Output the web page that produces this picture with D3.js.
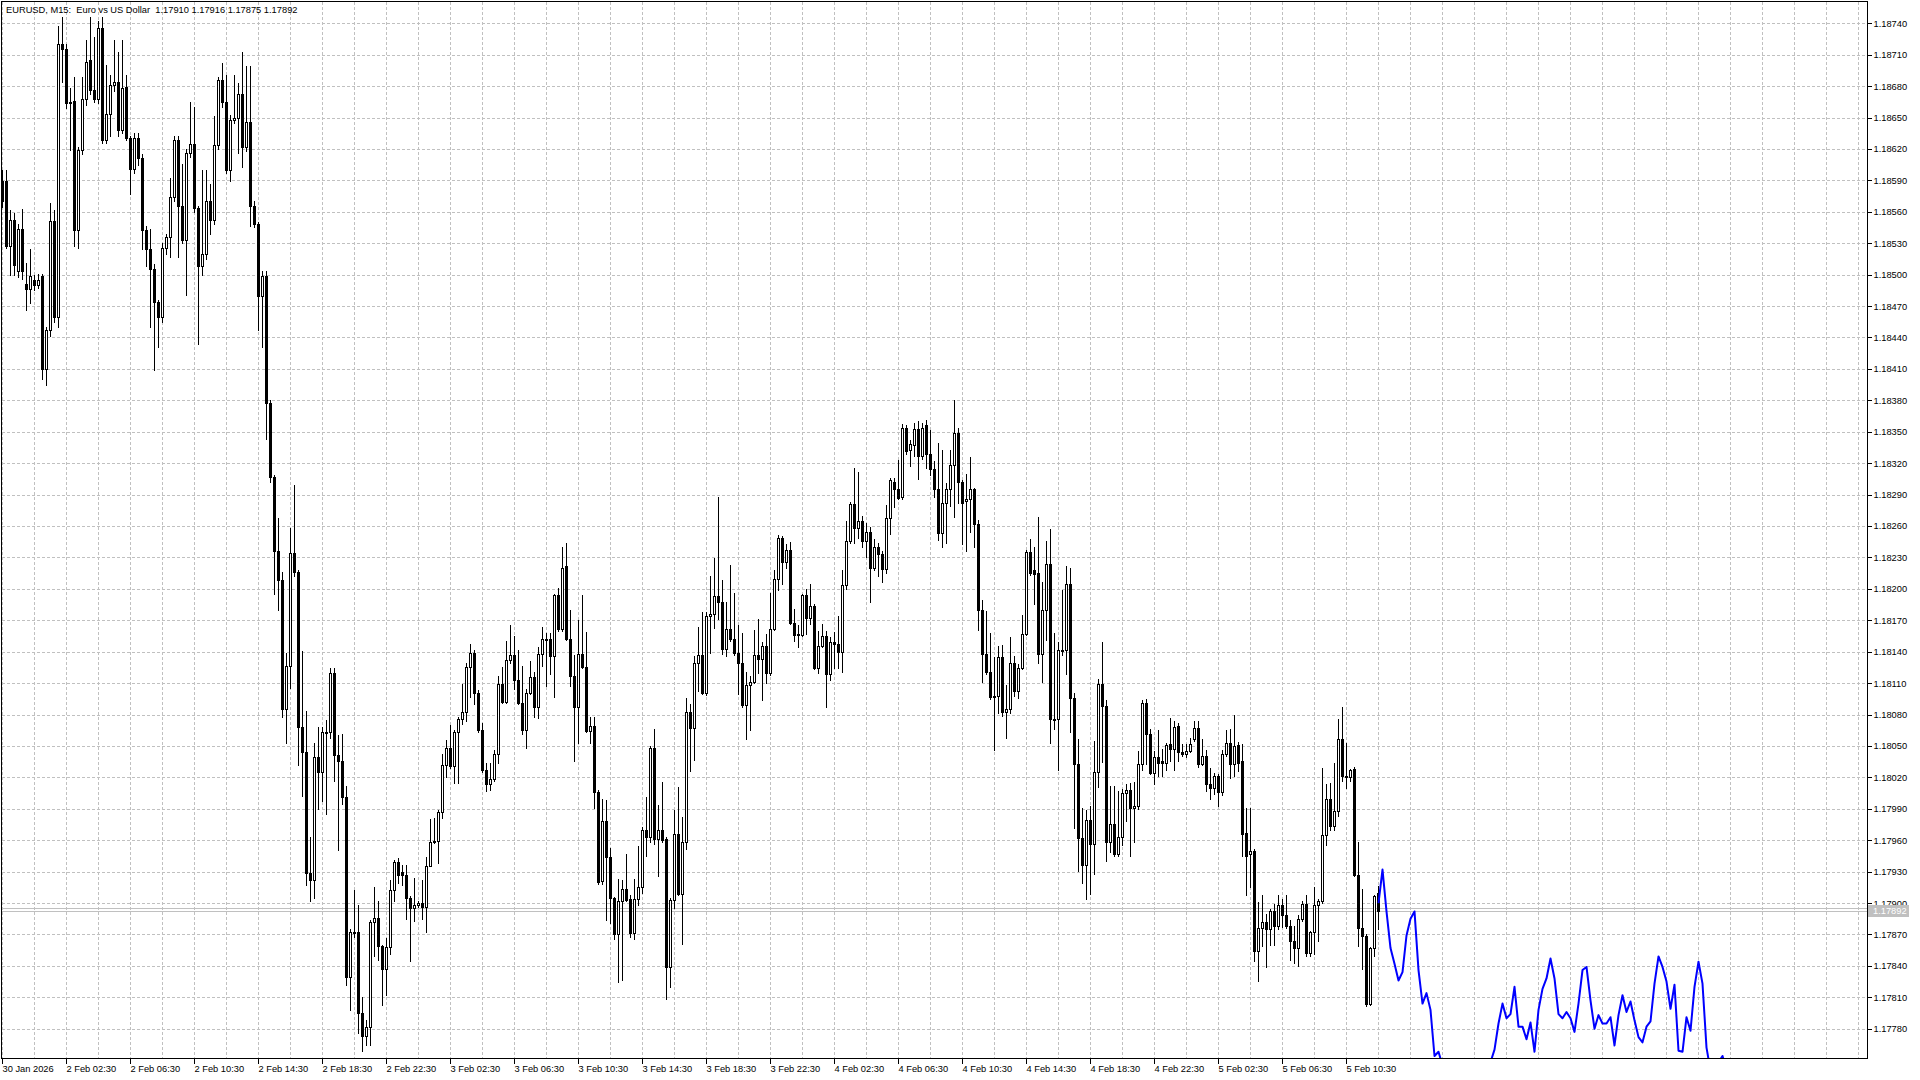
<!DOCTYPE html>
<html><head><meta charset="utf-8">
<script src="https://cdn.jsdelivr.net/npm/d3@7"></script>
<style>html,body{margin:0;padding:0;background:#fff;overflow:hidden}</style>
</head><body><svg id="chart" width="1920" height="1080"></svg>
<script>
// ---- data (EURUSD M15, first bar 30 Jan 2026 22:30) ----
const opens=[1.18589,1.18589,1.18527,1.18552,1.18503,1.18544,1.18491,1.18486,1.18495,1.18490,
1.18499,1.18410,1.18447,1.18551,1.18460,1.18720,1.18715,1.18665,1.18666,1.18543,
1.18619,1.18668,1.18705,1.18676,1.18668,1.18735,1.18629,1.18653,1.18681,1.18684,
1.18638,1.18679,1.18630,1.18601,1.18630,1.18611,1.18543,1.18524,1.18505,1.18474,
1.18460,1.18525,1.18536,1.18574,1.18629,1.18566,1.18533,1.18616,1.18625,1.18564,
1.18508,1.18520,1.18570,1.18552,1.18624,1.18686,1.18665,1.18600,1.18648,1.18650,
1.18672,1.18622,1.18646,1.18566,1.18548,1.18480,1.18499,1.18377,1.18307,1.18236,
1.18208,1.18085,1.18126,1.18234,1.18216,1.18068,1.18044,1.17929,1.17922,1.18039,
1.18025,1.18063,1.18063,1.18120,1.18041,1.18036,1.18001,1.17829,1.17872,1.17872,
1.17795,1.17773,1.17782,1.17882,1.17886,1.17859,1.17837,1.17858,1.17912,1.17939,
1.17930,1.17927,1.17905,1.17895,1.17898,1.17900,1.17896,1.17935,1.17958,1.17959,
1.17987,1.18032,1.18048,1.18031,1.18063,1.18076,1.18082,1.18125,1.18139,1.18101,
1.18065,1.18027,1.18014,1.18018,1.18042,1.18109,1.18092,1.18132,1.18137,1.18113,
1.18091,1.18065,1.18101,1.18116,1.18087,1.18138,1.18152,1.18152,1.18136,1.18194,
1.18162,1.18222,1.18152,1.18117,1.18087,1.18138,1.18125,1.18064,1.18069,1.18006,
1.17921,1.17978,1.17944,1.17905,1.17870,1.17902,1.17913,1.17904,1.17871,1.17904,
1.17915,1.17970,1.17963,1.18048,1.17961,1.17970,1.17961,1.17839,1.17903,1.17966,
1.17909,1.17958,1.18082,1.18067,1.18129,1.18137,1.18101,1.18174,1.18176,1.18193,
1.18187,1.18143,1.18162,1.18152,1.18139,1.18129,1.18089,1.18108,1.18111,1.18137,
1.18133,1.18145,1.18120,1.18162,1.18209,1.18249,1.18226,1.18237,1.18167,1.18156,
1.18156,1.18194,1.18172,1.18184,1.18124,1.18145,1.18155,1.18119,1.18149,1.18147,
1.18140,1.18204,1.18246,1.18281,1.18258,1.18265,1.18246,1.18254,1.18220,1.18240,
1.18233,1.18219,1.18268,1.18302,1.18295,1.18288,1.18354,1.18333,1.18337,1.18353,
1.18327,1.18356,1.18329,1.18314,1.18295,1.18253,1.18282,1.18295,1.18318,1.18349,
1.18302,1.18284,1.18286,1.18295,1.18262,1.18180,1.18138,1.18121,1.18098,1.18098,
1.18135,1.18082,1.18085,1.18129,1.18102,1.18124,1.18157,1.18235,1.18218,1.18215,
1.18138,1.18180,1.18224,1.18076,1.18076,1.18142,1.18142,1.18205,1.18096,1.18033,
1.17962,1.17936,1.17979,1.17956,1.18025,1.18109,1.18088,1.17958,1.17975,1.17947,
1.17963,1.18005,1.18008,1.17991,1.17993,1.18033,1.18091,1.18061,1.18024,1.18039,
1.18036,1.18034,1.18052,1.18047,1.18069,1.18044,1.18042,1.18045,1.18057,1.18067,
1.18033,1.18040,1.18014,1.18010,1.18021,1.18006,1.18042,1.18053,1.18033,1.18051,
1.18036,1.17967,1.17947,1.17950,1.17854,1.17876,1.17882,1.17875,1.17892,1.17878,
1.17898,1.17889,1.17878,1.17864,1.17857,1.17885,1.17899,1.17852,1.17872,1.17898,
1.17902,1.17965,1.17999,1.17974,1.17988,1.18057,1.18021,1.18020,1.18028,1.17927,
1.17876,1.17869,1.17804,1.17857,1.17910];
const highs=[1.18600,1.18600,1.18562,1.18559,1.18548,1.18563,1.18511,1.18524,1.18500,1.18501,
1.18501,1.18450,1.18568,1.18562,1.18737,1.18746,1.18720,1.18678,1.18689,1.18622,
1.18689,1.18724,1.18746,1.18727,1.18742,1.18746,1.18700,1.18691,1.18724,1.18713,
1.18724,1.18691,1.18632,1.18635,1.18635,1.18615,1.18546,1.18544,1.18510,1.18476,
1.18530,1.18539,1.18592,1.18632,1.18632,1.18606,1.18620,1.18665,1.18660,1.18566,
1.18600,1.18600,1.18587,1.18651,1.18689,1.18702,1.18691,1.18652,1.18691,1.18683,
1.18713,1.18699,1.18699,1.18570,1.18550,1.18503,1.18503,1.18380,1.18309,1.18268,
1.18216,1.18139,1.18258,1.18299,1.18218,1.18141,1.18083,1.17963,1.18053,1.18068,
1.18068,1.18075,1.18124,1.18124,1.18060,1.18061,1.18012,1.17875,1.17912,1.17898,
1.17810,1.17788,1.17884,1.17915,1.17902,1.17860,1.17867,1.17922,1.17941,1.17943,
1.17936,1.17936,1.17907,1.17924,1.17902,1.17922,1.17944,1.17980,1.17981,1.17989,
1.18042,1.18056,1.18070,1.18065,1.18078,1.18109,1.18129,1.18147,1.18142,1.18103,
1.18072,1.18034,1.18034,1.18046,1.18117,1.18125,1.18150,1.18165,1.18155,1.18142,
1.18126,1.18104,1.18131,1.18121,1.18144,1.18164,1.18158,1.18158,1.18195,1.18201,
1.18240,1.18244,1.18180,1.18137,1.18170,1.18194,1.18159,1.18078,1.18078,1.18008,
1.17999,1.17998,1.17953,1.17906,1.17923,1.17922,1.17947,1.17908,1.17923,1.17954,
1.17973,1.18001,1.18050,1.18066,1.17994,1.18016,1.17963,1.17905,1.17989,1.18011,
1.17982,1.18096,1.18090,1.18136,1.18164,1.18178,1.18178,1.18212,1.18229,1.18288,
1.18208,1.18187,1.18223,1.18196,1.18165,1.18158,1.18121,1.18117,1.18161,1.18171,
1.18149,1.18157,1.18196,1.18218,1.18251,1.18250,1.18243,1.18245,1.18181,1.18165,
1.18195,1.18200,1.18205,1.18186,1.18160,1.18166,1.18160,1.18154,1.18159,1.18174,
1.18218,1.18265,1.18283,1.18315,1.18312,1.18270,1.18263,1.18259,1.18248,1.18244,
1.18236,1.18280,1.18306,1.18306,1.18323,1.18357,1.18356,1.18342,1.18358,1.18360,
1.18358,1.18361,1.18352,1.18322,1.18339,1.18333,1.18301,1.18333,1.18380,1.18354,
1.18304,1.18310,1.18326,1.18296,1.18266,1.18189,1.18179,1.18158,1.18135,1.18145,
1.18146,1.18108,1.18154,1.18136,1.18128,1.18175,1.18237,1.18248,1.18240,1.18269,
1.18207,1.18246,1.18257,1.18158,1.18149,1.18199,1.18222,1.18220,1.18101,1.18057,
1.17991,1.17989,1.17993,1.18055,1.18114,1.18149,1.18094,1.18012,1.18012,1.18007,
1.18009,1.18014,1.18015,1.18016,1.18045,1.18094,1.18095,1.18066,1.18045,1.18065,
1.18047,1.18053,1.18077,1.18074,1.18072,1.18052,1.18052,1.18058,1.18074,1.18074,
1.18057,1.18046,1.18029,1.18024,1.18023,1.18046,1.18065,1.18066,1.18080,1.18054,
1.18052,1.17991,1.17991,1.17952,1.17901,1.17908,1.17890,1.17894,1.17899,1.17908,
1.17904,1.17908,1.17884,1.17878,1.17889,1.17902,1.17908,1.17873,1.17915,1.17904,
1.18029,1.18014,1.18015,1.18034,1.18076,1.18087,1.18053,1.18028,1.18030,1.17958,
1.17913,1.17870,1.17858,1.17908,1.17916];
const lows=[1.18565,1.18525,1.18500,1.18500,1.18498,1.18496,1.18466,1.18473,1.18485,1.18487,
1.18400,1.18395,1.18441,1.18455,1.18450,1.18684,1.18659,1.18619,1.18527,1.18525,
1.18615,1.18662,1.18672,1.18665,1.18664,1.18626,1.18626,1.18632,1.18675,1.18632,
1.18635,1.18629,1.18577,1.18597,1.18605,1.18524,1.18508,1.18450,1.18409,1.18431,
1.18455,1.18520,1.18517,1.18570,1.18517,1.18530,1.18481,1.18612,1.18560,1.18434,
1.18500,1.18515,1.18539,1.18548,1.18620,1.18660,1.18597,1.18589,1.18645,1.18616,
1.18603,1.18618,1.18546,1.18545,1.18447,1.18431,1.18343,1.18302,1.18195,1.18180,
1.18078,1.18053,1.18105,1.18212,1.18032,1.18002,1.17917,1.17902,1.17905,1.17990,
1.17997,1.17985,1.18058,1.18017,1.17951,1.17995,1.17822,1.17798,1.17868,1.17776,
1.17759,1.17764,1.17764,1.17849,1.17846,1.17803,1.17812,1.17851,1.17902,1.17919,
1.17917,1.17885,1.17845,1.17883,1.17896,1.17885,1.17872,1.17935,1.17957,1.17938,
1.17981,1.18020,1.18029,1.18015,1.18015,1.18071,1.18074,1.18097,1.18090,1.18063,
1.18025,1.18007,1.18008,1.18017,1.18034,1.18091,1.18091,1.18129,1.18104,1.18090,
1.18061,1.18048,1.18100,1.18078,1.18077,1.18126,1.18107,1.18119,1.18097,1.18160,
1.18160,1.18151,1.18107,1.18036,1.18053,1.18124,1.18063,1.18053,1.17991,1.17918,
1.17918,1.17884,1.17881,1.17866,1.17825,1.17827,1.17902,1.17868,1.17866,1.17898,
1.17910,1.17945,1.17958,1.17956,1.17926,1.17958,1.17808,1.17820,1.17895,1.17908,
1.17861,1.17952,1.18026,1.18037,1.18102,1.18100,1.18099,1.18139,1.18163,1.18171,
1.18138,1.18136,1.18150,1.18137,1.18100,1.18087,1.18057,1.18065,1.18110,1.18120,
1.18094,1.18110,1.18118,1.18161,1.18199,1.18205,1.18220,1.18166,1.18150,1.18144,
1.18155,1.18157,1.18166,1.18123,1.18120,1.18144,1.18087,1.18113,1.18124,1.18124,
1.18121,1.18200,1.18244,1.18244,1.18249,1.18240,1.18230,1.18187,1.18218,1.18212,
1.18207,1.18215,1.18252,1.18278,1.18286,1.18286,1.18329,1.18317,1.18327,1.18305,
1.18324,1.18315,1.18309,1.18288,1.18247,1.18240,1.18244,1.18279,1.18269,1.18282,
1.18243,1.18236,1.18254,1.18240,1.18161,1.18111,1.18119,1.18095,1.18046,1.18081,
1.18079,1.18058,1.18081,1.18098,1.18096,1.18123,1.18156,1.18213,1.18186,1.18129,
1.18111,1.18151,1.18053,1.18066,1.18027,1.18137,1.18119,1.18063,1.17972,1.17931,
1.17919,1.17904,1.17909,1.17928,1.18011,1.18035,1.17940,1.17949,1.17945,1.17945,
1.17955,1.17978,1.17945,1.17958,1.17990,1.18027,1.18033,1.18023,1.18014,1.18021,
1.18021,1.18027,1.18036,1.18027,1.18036,1.18040,1.18039,1.18044,1.18055,1.18030,
1.18032,1.18007,1.17999,1.18004,1.17993,1.18003,1.18040,1.18019,1.18021,1.18026,
1.17945,1.17908,1.17915,1.17845,1.17826,1.17859,1.17839,1.17860,1.17860,1.17875,
1.17877,1.17876,1.17846,1.17843,1.17840,1.17883,1.17849,1.17849,1.17851,1.17864,
1.17900,1.17955,1.17970,1.17970,1.17983,1.18017,1.18010,1.18017,1.17926,1.17859,
1.17837,1.17802,1.17803,1.17849,1.17875];
const closes=[1.18570,1.18527,1.18552,1.18509,1.18544,1.18503,1.18486,1.18499,1.18490,1.18495,
1.18410,1.18447,1.18551,1.18460,1.18720,1.18715,1.18664,1.18664,1.18543,1.18619,
1.18668,1.18703,1.18676,1.18668,1.18735,1.18629,1.18653,1.18681,1.18684,1.18638,
1.18678,1.18630,1.18601,1.18630,1.18611,1.18543,1.18524,1.18505,1.18474,1.18460,
1.18525,1.18536,1.18574,1.18629,1.18566,1.18533,1.18616,1.18625,1.18564,1.18508,
1.18520,1.18570,1.18552,1.18624,1.18686,1.18665,1.18600,1.18648,1.18650,1.18672,
1.18622,1.18646,1.18566,1.18548,1.18480,1.18499,1.18377,1.18307,1.18236,1.18208,
1.18085,1.18126,1.18234,1.18216,1.18068,1.18044,1.17929,1.17922,1.18039,1.18025,
1.18063,1.18062,1.18120,1.18041,1.18036,1.18001,1.17829,1.17872,1.17871,1.17795,
1.17773,1.17782,1.17882,1.17886,1.17859,1.17837,1.17858,1.17912,1.17939,1.17927,
1.17927,1.17905,1.17895,1.17898,1.17900,1.17896,1.17935,1.17958,1.17959,1.17987,
1.18032,1.18048,1.18031,1.18063,1.18076,1.18082,1.18125,1.18139,1.18101,1.18065,
1.18027,1.18014,1.18018,1.18042,1.18109,1.18092,1.18132,1.18137,1.18113,1.18091,
1.18065,1.18101,1.18116,1.18087,1.18138,1.18152,1.18151,1.18136,1.18194,1.18162,
1.18220,1.18152,1.18117,1.18087,1.18138,1.18125,1.18064,1.18069,1.18006,1.17920,
1.17978,1.17944,1.17905,1.17870,1.17902,1.17913,1.17903,1.17871,1.17904,1.17915,
1.17970,1.17963,1.18048,1.17961,1.17970,1.17960,1.17839,1.17903,1.17966,1.17909,
1.17958,1.18082,1.18067,1.18129,1.18137,1.18101,1.18174,1.18176,1.18193,1.18187,
1.18143,1.18162,1.18152,1.18139,1.18129,1.18089,1.18108,1.18111,1.18137,1.18133,
1.18145,1.18120,1.18162,1.18209,1.18249,1.18226,1.18237,1.18167,1.18156,1.18157,
1.18194,1.18172,1.18184,1.18124,1.18145,1.18155,1.18119,1.18149,1.18147,1.18140,
1.18204,1.18246,1.18281,1.18258,1.18265,1.18246,1.18254,1.18220,1.18240,1.18233,
1.18219,1.18268,1.18304,1.18295,1.18287,1.18354,1.18332,1.18338,1.18353,1.18327,
1.18354,1.18329,1.18314,1.18295,1.18253,1.18282,1.18295,1.18318,1.18349,1.18302,
1.18282,1.18286,1.18295,1.18262,1.18180,1.18138,1.18121,1.18097,1.18097,1.18135,
1.18082,1.18085,1.18129,1.18102,1.18124,1.18157,1.18235,1.18215,1.18214,1.18138,
1.18180,1.18224,1.18076,1.18075,1.18142,1.18141,1.18205,1.18096,1.18033,1.17962,
1.17936,1.17979,1.17956,1.18025,1.18109,1.18088,1.17958,1.17975,1.17947,1.17963,
1.18005,1.18008,1.17991,1.17993,1.18033,1.18091,1.18061,1.18024,1.18039,1.18034,
1.18034,1.18051,1.18047,1.18068,1.18044,1.18042,1.18045,1.18052,1.18067,1.18033,
1.18040,1.18014,1.18010,1.18021,1.18006,1.18042,1.18053,1.18033,1.18050,1.18034,
1.17966,1.17945,1.17950,1.17854,1.17876,1.17882,1.17875,1.17892,1.17878,1.17898,
1.17889,1.17878,1.17864,1.17857,1.17885,1.17899,1.17852,1.17872,1.17898,1.17902,
1.17965,1.17999,1.17974,1.17988,1.18057,1.18021,1.18020,1.18027,1.17927,1.17876,
1.17869,1.17804,1.17857,1.17907,1.17892];
// blue projection line, one value per bar starting at bar index forecastStart
const forecastStart=344;
const forecast=[1.17900,1.17932,1.17892,1.17857,1.17842,1.17826,1.17834,1.17869,1.17885,1.17892,
1.17836,1.17804,1.17814,1.17798,1.17754,1.17758,1.17745,1.17738,1.17732,1.17728,
1.17725,1.17723,1.17726,1.17730,1.17734,1.17738,1.17742,1.17745,1.17748,1.17760,
1.17785,1.17804,1.17790,1.17794,1.17820,1.17782,1.17782,1.17770,1.17786,1.17758,
1.17798,1.17818,1.17828,1.17847,1.17828,1.17794,1.17790,1.17796,1.17790,1.17777,
1.17804,1.17836,1.17839,1.17807,1.17780,1.17793,1.17785,1.17785,1.17791,1.17764,
1.17793,1.17812,1.17796,1.17806,1.17788,1.17772,1.17767,1.17782,1.17787,1.17823,
1.17849,1.17839,1.17825,1.17799,1.17822,1.17759,1.17758,1.17791,1.17778,1.17820,
1.17844,1.17823,1.17762,1.17740,1.17738,1.17748,1.17754,1.17742];
const priceTicks=[1.18740,1.18710,1.18680,1.18650,1.18620,1.18590,1.18560,1.18530,1.18500,1.18470,1.18440,
1.18410,1.18380,1.18350,1.18320,1.18290,1.18260,1.18230,1.18200,1.18170,1.18140,1.18110,
1.18080,1.18050,1.18020,1.17990,1.17960,1.17930,1.17900,1.17870,1.17840,1.17810,1.17780];
const labelBars=[0,16,32,48,64,80,96,112,128,144,160,176,192,208,224,240,256,272,288,304,320,336];
const timeLabels=["30 Jan 2026","2 Feb 02:30","2 Feb 06:30","2 Feb 10:30","2 Feb 14:30","2 Feb 18:30",
"2 Feb 22:30","3 Feb 02:30","3 Feb 06:30","3 Feb 10:30","3 Feb 14:30","3 Feb 18:30","3 Feb 22:30",
"4 Feb 02:30","4 Feb 06:30","4 Feb 10:30","4 Feb 14:30","4 Feb 18:30","4 Feb 22:30","5 Feb 02:30",
"5 Feb 06:30","5 Feb 10:30"];
const gridBars=d3.range(0,465,8);
const titleText="EURUSD, M15:  Euro vs US Dollar  1.17910 1.17916 1.17875 1.17892";
const bidPrice=1.17892, askPrice=1.17895;

// ---- layout ----
const L=2,R=1868,T=2,B=1059;
const FONT='"Liberation Sans", Arial, sans-serif';
const FS=9.3;
const svg=d3.select("#chart");
const x=d3.scaleLinear().domain([0,466]).range([2.5,2.5+4*466]);
const y=d3.scaleLinear().domain([1.177511,1.187603]).range([B,T]);
const px=i=>Math.floor(x(i));

svg.append("defs").append("clipPath").attr("id","clip")
  .append("rect").attr("x",L).attr("y",T).attr("width",R-L).attr("height",B-T);

// grid
const grid=svg.append("g").attr("stroke","#c0c0c0").attr("stroke-dasharray","3,2")
  .attr("shape-rendering","crispEdges");
grid.selectAll("line.h").data(priceTicks).join("line").attr("class","h")
  .attr("x1",L).attr("x2",R).attr("y1",d=>Math.round(y(d))+0.5).attr("y2",d=>Math.round(y(d))+0.5);
grid.selectAll("line.v").data(gridBars).join("line").attr("class","v")
  .attr("x1",d=>px(d)+0.5).attr("x2",d=>px(d)+0.5).attr("y1",T).attr("y2",B);

// bid / ask lines
svg.append("g").attr("stroke","#c0c0c0").attr("shape-rendering","crispEdges")
  .selectAll("line").data([bidPrice,askPrice]).join("line")
  .attr("x1",L).attr("x2",R).attr("y1",d=>Math.round(y(d))+0.5).attr("y2",d=>Math.round(y(d))+0.5);

// candles
const bars=opens.map((o,i)=>({i,o,h:highs[i],l:lows[i],c:closes[i]}));
const cg=svg.append("g").attr("clip-path","url(#clip)").attr("shape-rendering","crispEdges");
cg.selectAll("line.wick").data(bars).join("line").attr("class","wick")
  .attr("x1",d=>px(d.i)+0.5).attr("x2",d=>px(d.i)+0.5)
  .attr("y1",d=>Math.round(y(d.h))).attr("y2",d=>Math.round(y(d.l))+1)
  .attr("stroke","#000").attr("stroke-width",1);
cg.selectAll("rect.bear").data(bars.filter(d=>d.c<=d.o)).join("rect").attr("class","bear")
  .attr("x",d=>px(d.i)-1).attr("y",d=>Math.round(y(d.o)))
  .attr("width",3).attr("height",d=>Math.max(1,Math.round(y(d.c))-Math.round(y(d.o))+1))
  .attr("fill","#000");
cg.selectAll("rect.bull").data(bars.filter(d=>d.c>d.o)).join("rect").attr("class","bull")
  .attr("x",d=>px(d.i)-0.5).attr("y",d=>Math.round(y(d.c))+0.5)
  .attr("width",2).attr("height",d=>Math.max(0,Math.round(y(d.o))-Math.round(y(d.c))))
  .attr("fill","#fff").attr("stroke","#000").attr("stroke-width",1);

// forecast line
svg.append("g").attr("clip-path","url(#clip)").append("path")
  .datum(forecast)
  .attr("d",d3.line().x((d,k)=>x(forecastStart+k)).y(d=>y(d)))
  .attr("fill","none").attr("stroke","#0000ff").attr("stroke-width",2).attr("stroke-linejoin","round");

// frame
svg.append("rect").attr("x",L-0.5).attr("y",T-0.5).attr("width",R-L).attr("height",B-T)
  .attr("fill","none").attr("stroke","#000").attr("shape-rendering","crispEdges");

// price axis
const ya=svg.append("g").attr("transform",`translate(${R-0.5},0)`)
  .call(d3.axisRight(y).tickValues(priceTicks).tickFormat(d3.format(".5f")).tickSize(4).tickPadding(2));
ya.select(".domain").remove();
ya.selectAll("line").attr("stroke","#000").attr("shape-rendering","crispEdges");
ya.selectAll("text").attr("font-family",FONT).attr("font-size",FS).attr("fill","#000");

// time axis
const xa=svg.append("g").attr("transform",`translate(0,${B-0.5})`)
  .call(d3.axisBottom(x).tickValues(labelBars).tickFormat((d,k)=>timeLabels[k]).tickSize(5).tickPadding(2));
xa.select(".domain").remove();
xa.selectAll(".tick").attr("transform",d=>`translate(${px(d)+0.5},0)`);
xa.selectAll("line").attr("stroke","#000").attr("shape-rendering","crispEdges");
xa.selectAll("text").attr("font-family",FONT).attr("font-size",FS).attr("fill","#000")
  .attr("text-anchor","start").attr("x",0);

// current price label
const by=Math.round(y(bidPrice));
svg.append("rect").attr("x",R).attr("y",by-6).attr("width",41).attr("height",12).attr("fill","#c0c0c0");
svg.append("text").attr("x",R+5).attr("y",by).attr("dy","0.35em")
  .attr("font-family",FONT).attr("font-size",FS).attr("fill","#fff").text(d3.format(".5f")(bidPrice));

// title
svg.append("text").attr("x",6).attr("y",12.5).style("white-space","pre")
  .attr("font-family",FONT).attr("font-size",FS).attr("fill","#000").text(titleText);
</script></body></html>
